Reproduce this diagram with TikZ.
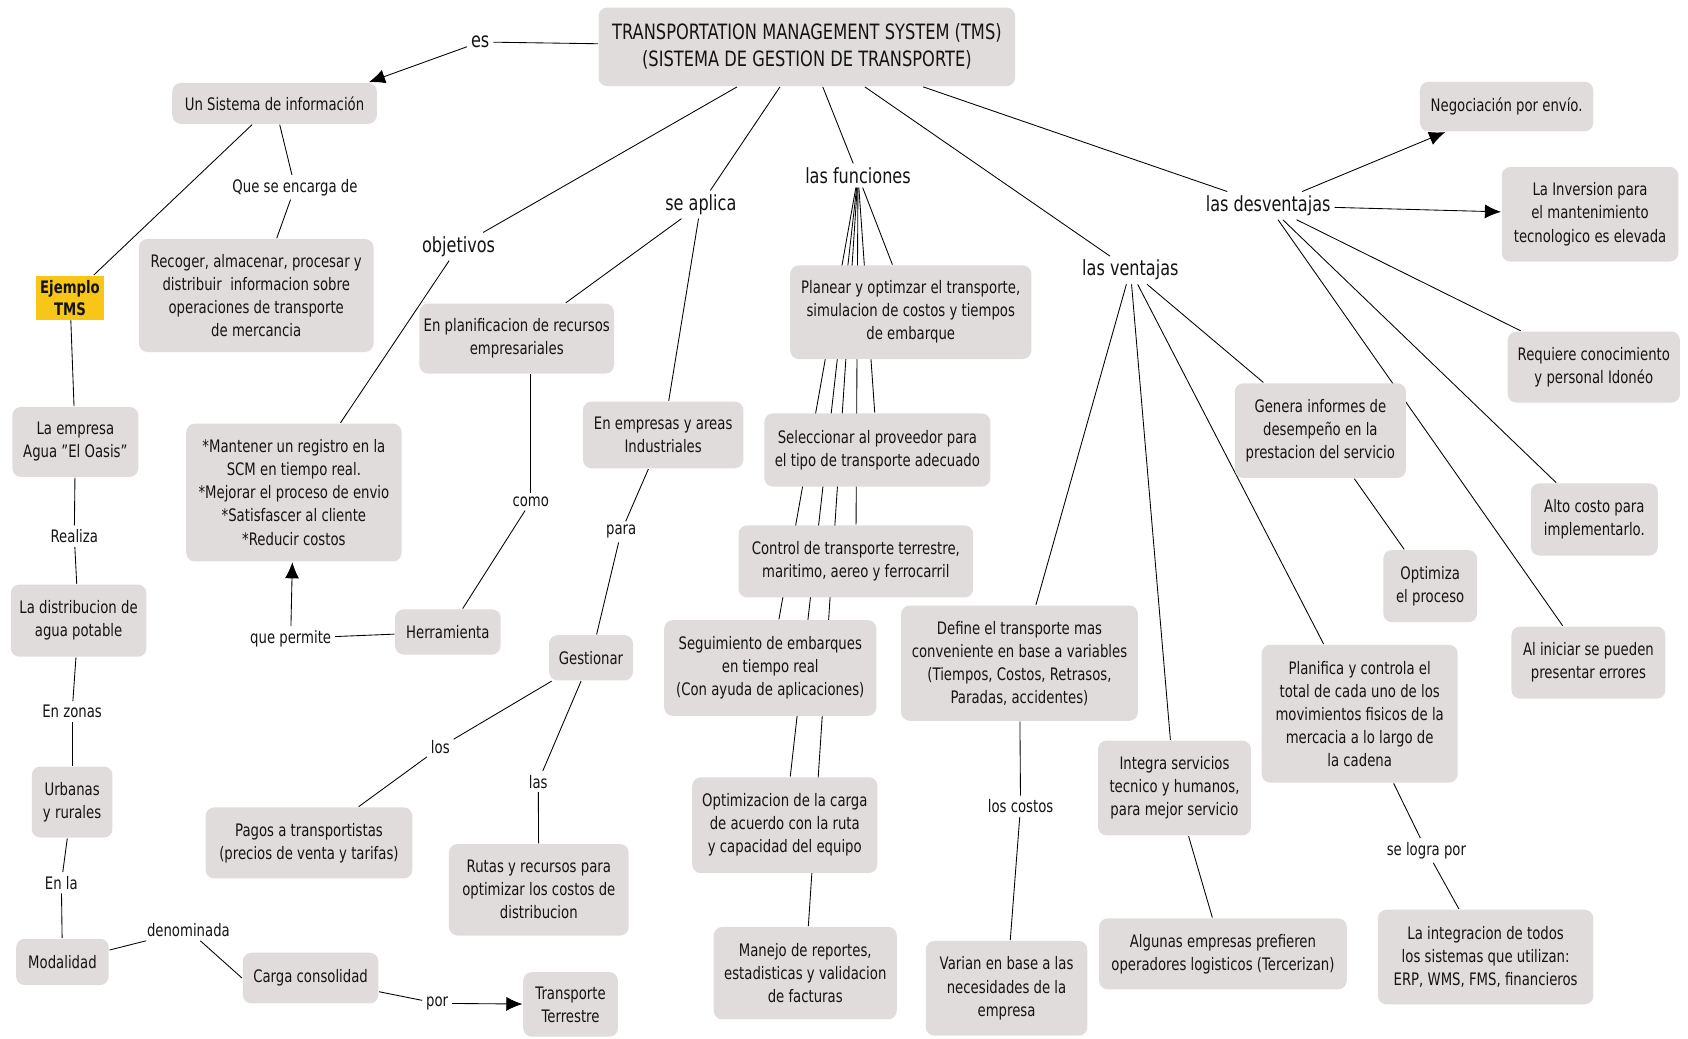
\documentclass[tikz,border=0pt]{standalone}
\usepackage{fontspec}
\setmainfont{DejaVu Sans}[FakeStretch=0.77, Ligatures=ResetAll]
\usetikzlibrary{arrows.meta}
\pgfdeclarelayer{background}
\pgfsetlayers{background,main}
\definecolor{boxgray}{RGB}{225,220,220}
\definecolor{tmsyellow}{RGB}{248,198,22}
\tikzset{sz/.style 2 args = {minimum width=#1, minimum height=#2}}

\begin{document}
\begin{tikzpicture}
   [
     x                  = 0.5pt,
     y                  = -0.5pt,
     line width         = 0.7pt,
     every node/.style  = {font=\fontsize{8}{10.7}\selectfont, text=black!92, align=center},
     concept/.style     = {shape=rectangle, rounded corners=4pt, fill=boxgray, inner sep=2pt},
     ejemplo/.style     = {concept, rounded corners=0pt, fill=tmsyellow,
                           font=\fontsize{8}{10.2}\selectfont\bfseries},
     link/.style        = {inner sep=1.5pt},
     biglink/.style     = {link, font=\fontsize{9.7}{11}\selectfont},
     arr/.style         = {-{Latex[length=7.5pt,width=6.5pt]}}
   ]
    \useasboundingbox (0,0) rectangle (1568,965.1);

    \node [concept, sz={193.5pt}{36.5pt}, font=\fontsize{9.8}{12.5}\selectfont] (tms) at (749.5,43.5)
      {TRANSPORTATION MANAGEMENT SYSTEM (TMS)\\(SISTEMA DE GESTION DE TRANSPORTE)};

    \node [concept, sz={95pt}{19pt}]     (sis)  at (255,96)    {Un Sistema de información};
    \node [concept, sz={109pt}{52.5pt}]  (rec)  at (238,274.5) {Recoger, almacenar, procesar y\\distribuir\ \ informacion sobre\\operaciones de transporte\\de mercancia};
    \node [ejemplo, sz={30pt}{20pt}]     (ej)   at (65,276.5)  {Ejemplo\\TMS};
    \node [concept, sz={58.5pt}{32.5pt}] (emp)  at (70,410.5)  {La empresa\\Agua "El Oasis"};
    \node [concept, sz={63pt}{33.5pt}]   (dist) at (73,576.5)  {La distribucion de\\agua potable};
    \node [concept, sz={37.5pt}{33pt}]   (urb)  at (67,745)    {Urbanas\\y rurales};
    \node [concept, sz={43pt}{21.5pt}]   (mod)  at (58,893.5)  {Modalidad};
    \node [concept, sz={63pt}{23.5pt}]   (carga) at (288.5,908.5) {Carga consolidad};
    \node [concept, sz={44pt}{30pt}]     (terr) at (530,933)   {Transporte\\Terrestre};

    \node [concept, sz={83pt}{32.5pt}]   (plan) at (480,314.5) {En planificacion de recursos\\empresariales};
    \node [concept, sz={100pt}{64pt}]    (mant) at (273,457.5) {*Mantener un registro en la\\SCM en tiempo real.\\*Mejorar el proceso de envio\\*Satisfascer al cliente\\*Reducir costos};
    \node [concept, sz={49pt}{21pt}]     (herr) at (416,587)   {Herramienta};
    \node [concept, sz={74.5pt}{31pt}]   (emp2) at (616,404)   {En empresas y areas\\Industriales};
    \node [concept, sz={39pt}{21pt}]     (gest) at (549,611)   {Gestionar};
    \node [concept, sz={96pt}{33pt}]     (pagos) at (287,783)  {Pagos a transportistas\\(precios de venta y tarifas)};
    \node [concept, sz={83.5pt}{42.5pt}] (rutas) at (500.5,826.5) {Rutas y recursos para\\optimizar los costos de\\distribucion};

    \node [concept, sz={112pt}{43.5pt}]  (planear) at (846,290)  {Planear y optimzar el transporte,\\simulacion de costos y tiempos\\de embarque};
    \node [concept, sz={105pt}{34pt}]    (selec)   at (815,418)  {Seleccionar al proveedor para\\el tipo de transporte adecuado};
    \node [concept, sz={109pt}{33.5pt}]  (ctrl)    at (795,521.5) {Control de transporte terrestre,\\maritimo, aereo y ferrocarril};
    \node [concept, sz={98.5pt}{44.5pt}] (segu)    at (715.5,620.5) {Seguimiento de embarques\\en tiempo real\\(Con ayuda de aplicaciones)};
    \node [concept, sz={86pt}{44.5pt}]   (optc)    at (729,766.5) {Optimizacion de la carga\\de acuerdo con la ruta\\y capacidad del equipo};
    \node [concept, sz={85pt}{43pt}]     (manejo)  at (748,904)  {Manejo de reportes,\\estadisticas y validacion\\de facturas};

    \node [concept, sz={110pt}{53.5pt}]  (define)  at (947,616)  {Define el transporte mas\\conveniente en base a variables\\(Tiempos, Costos, Retrasos,\\Paradas, accidentes)};
    \node [concept, sz={75pt}{44pt}]     (varian)  at (935,918)  {Varian en base a las\\necesidades de la\\empresa};
    \node [concept, sz={71pt}{44pt}]     (integra) at (1091,732) {Integra servicios\\tecnico y humanos,\\para mejor servicio};
    \node [concept, sz={115pt}{33pt}]    (algunas) at (1136,886) {Algunas empresas prefieren\\operadores logisticos (Tercerizan)};
    \node [concept, sz={91pt}{64pt}]     (planif)  at (1263,663) {Planifica y controla el\\total de cada uno de los\\movimientos fisicos de la\\mercacia a lo largo de\\la cadena};
    \node [concept, sz={100pt}{44pt}]    (integr)  at (1380,889) {La integracion de todos\\los sistemas que utilizan:\\ERP, WMS, FMS, financieros};
    \node [concept, sz={79.5pt}{44pt}]   (genera)  at (1226.5,400) {Genera informes de\\desempeño en la\\prestacion del servicio};
    \node [concept, sz={43.5pt}{33.5pt}] (optp)    at (1328.5,544.5) {Optimiza\\el proceso};

    \node [concept, sz={80.5pt}{23pt}]   (neg)  at (1399.5,99)  {Negociación por envío.};
    \node [concept, sz={82pt}{44pt}]     (inv)  at (1477,199)   {La Inversion para\\el mantenimiento\\tecnologico es elevada};
    \node [concept, sz={80pt}{33pt}]     (req)  at (1480.5,341) {Requiere conocimiento\\y personal Idonéo};
    \node [concept, sz={59pt}{33.5pt}]   (alto) at (1481,482.5) {Alto costo para\\implementarlo.};
    \node [concept, sz={71.5pt}{33.5pt}] (inic) at (1475.5,615.5) {Al iniciar se pueden\\presentar errores};

    \node [biglink] (es)     at (446,39)    {es};
    \node [biglink] (obj)    at (426,229)   {objetivos};
    \node [biglink] (aplica) at (651,190)   {se aplica};
    \node [biglink] (fun)    at (797,163)   {las funciones};
    \node [biglink] (vent)   at (1050,251)  {las ventajas};
    \node [biglink] (desv)   at (1178,191)  {las desventajas};
    \node [link] (encarga) at (274,174)   {Que se encarga de};
    \node [link] (realiza) at (69,498)    {Realiza};
    \node [link] (zonas)   at (67,661)    {En zonas};
    \node [link] (enla)    at (57,820)    {En la};
    \node [link] (denom)   at (175,864)   {denominada};
    \node [link] (por)     at (406,932)   {por};
    \node [link] (como)    at (493,466)   {como};
    \node [link] (qp)      at (270,593)   {que permite};
    \node [link] (para)    at (577,494)   {para};
    \node [link] (los)     at (409,694)   {los};
    \node [link] (las)     at (500,726)   {las};
    \node [link] (costos)  at (948,749)   {los costos};
    \node [link] (logra)   at (1325,790)  {se logra por};

    \begin{pgfonlayer}{background}
      \fill [white] (0,0) rectangle (1568,965.1);
      \draw (tms) -- (es);
      \draw [arr] (es) -- ([xshift=-4pt]sis.north east);
      \draw (sis) -- (encarga);
      \draw (encarga) -- (rec);
      \draw (sis) -- (ej);
      \draw (ej) -- (emp);
      \draw (emp) -- (realiza);
      \draw (realiza) -- (dist);
      \draw (dist) -- (zonas);
      \draw (zonas) -- (urb);
      \draw (urb) -- (enla);
      \draw (enla) -- (mod);
      \draw (mod) -- (denom);
      \draw (denom) -- (carga.west);
      \draw (carga) -- (por);
      \draw [arr] (por) -- (terr);
      \draw (tms) -- (obj);
      \draw (obj) -- (mant);
      \draw (tms) -- (aplica);
      \draw (aplica) -- (plan);
      \draw (aplica) -- (emp2);
      \draw (plan.south -| como) -- (como);
      \draw (como) -- (herr);
      \draw (herr) -- (qp);
      \draw [arr] (qp) -- (mant);
      \draw (emp2) -- (para);
      \draw (para) -- (gest);
      \draw (gest) -- (los);
      \draw (los) -- (pagos);
      \draw (gest) -- (las);
      \draw (las) -- (rutas);
      \draw (tms) -- (fun);
      \foreach \f in {planear,selec,ctrl,segu,optc,manejo}
        \draw (fun) -- (\f);
      \draw (tms) -- (vent);
      \foreach \v in {define,integra,planif,genera}
        \draw (vent) -- (\v);
      \draw (define) -- (costos);
      \draw (costos) -- (varian);
      \draw (integra) -- (algunas);
      \draw (planif) -- (logra);
      \draw (logra) -- (integr);
      \draw (genera) -- (optp);
      \draw (tms) -- (desv);
      \draw [arr] (desv) -- (neg);
      \draw [arr] (desv) -- (inv);
      \foreach \d in {req,alto,inic}
        \draw (desv) -- (\d);
    \end{pgfonlayer}
\end{tikzpicture}
\end{document}
